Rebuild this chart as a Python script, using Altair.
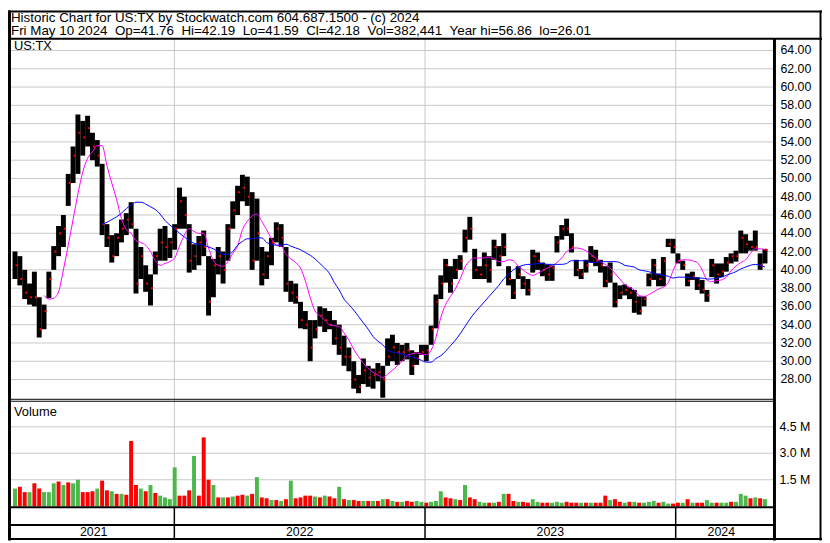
import altair as alt
import pandas as pd

FONT = "Liberation Sans"

header_line1 = "Historic Chart for US:TX by Stockwatch.com 604.687.1500 - (c) 2024"
header_line2 = ("Fri May 10 2024\u00a0\u00a0Op=41.76\u00a0\u00a0Hi=42.19\u00a0\u00a0Lo=41.59\u00a0\u00a0"
                "Cl=42.18\u00a0\u00a0Vol=382,441\u00a0\u00a0Year hi=56.86\u00a0\u00a0lo=26.01")
symbol = "US:TX"

first_week = "2021-05-14"
last_week = "2024-05-10"

hi = [42.0, 41.5, 40.0, 38.5, 39.8, 37.0, 36.2, 39.8, 42.6, 44.8,
      46.0, 50.5, 53.5, 57.0, 56.3, 56.86, 55.0, 54.2, 51.6, 45.0,
      43.8, 44.0, 45.5, 46.2, 47.4, 44.5, 42.5, 40.5, 39.5, 42.0,
      44.5, 44.8, 43.5, 45.0, 49.0, 48.0, 45.0, 42.8, 43.7, 44.3,
      41.5, 41.2, 42.5, 42.0, 45.0, 47.5, 49.2, 50.4, 50.2, 48.5,
      47.8, 42.5, 42.0, 43.5, 45.2, 45.0, 42.5, 38.8, 38.5, 36.5,
      35.5, 34.5, 34.5, 36.0, 35.8, 35.5, 34.5, 34.0, 32.8, 31.5,
      30.0, 28.5, 30.3, 29.5, 29.2, 29.8, 29.5, 32.5, 32.9, 32.0,
      31.8, 32.0, 31.2, 31.0, 31.8, 31.8, 33.9, 37.3, 39.4, 41.2,
      40.4, 41.2, 41.6, 44.4, 45.8, 42.3, 40.4, 41.9, 41.5, 43.3,
      42.6, 44.0, 40.4, 39.0, 40.4, 39.3, 39.0, 42.2, 41.9, 40.8,
      40.6, 40.5, 43.7, 44.9, 45.6, 44.0, 41.1, 40.1, 41.1, 42.6,
      42.2, 41.1, 40.4, 40.8, 38.6, 38.3, 38.4, 38.1, 37.8, 37.1,
      37.1, 39.6, 41.2, 39.6, 41.4, 43.4, 43.4, 41.8, 41.0, 39.6,
      39.8, 39.2, 38.9, 37.8, 41.2, 40.7, 40.7, 41.4, 41.8, 42.1,
      44.3, 43.9, 43.2, 44.3, 41.8, 42.3]

lo = [39.0, 38.3, 36.8, 36.2, 36.0, 32.6, 33.5, 36.9, 40.0, 41.5,
      42.5, 47.0, 49.5, 50.5, 52.5, 53.5, 52.0, 51.3, 43.8, 42.5,
      40.8, 41.5, 43.0, 43.8, 44.5, 37.4, 39.0, 37.6, 36.1, 39.5,
      41.0, 41.0, 41.3, 42.2, 44.5, 44.5, 39.7, 40.0, 40.5, 41.5,
      35.0, 37.0, 39.5, 38.5, 41.0, 44.5, 46.0, 47.5, 47.0, 40.0,
      41.0, 38.3, 39.0, 40.5, 43.0, 42.5, 37.6, 36.5, 36.3, 33.6,
      33.5, 30.0, 32.5, 33.8, 33.2, 33.5, 31.8, 30.7, 29.5, 28.9,
      27.0, 26.5, 27.5, 27.2, 27.0, 27.8, 26.01, 29.5, 30.0, 29.6,
      30.0, 30.2, 28.5, 29.6, 30.7, 30.0, 31.8, 33.6, 36.8, 38.6,
      37.5, 39.0, 40.0, 41.9, 43.3, 39.0, 39.0, 39.0, 38.6, 41.1,
      40.4, 41.5, 38.3, 36.8, 39.0, 37.9, 37.2, 39.7, 40.0, 39.3,
      38.8, 38.8, 41.9, 43.3, 43.7, 41.9, 39.3, 39.0, 39.7, 40.8,
      40.4, 39.7, 38.1, 38.6, 35.9, 36.8, 37.2, 36.8, 35.3, 35.1,
      36.0, 38.2, 38.9, 38.2, 38.2, 42.5, 41.8, 40.7, 40.0, 38.2,
      38.9, 37.8, 37.4, 36.5, 39.2, 38.5, 39.2, 39.8, 40.7, 40.9,
      41.8, 41.8, 42.1, 42.1, 40.0, 40.7]

close = [40.5, 39.0, 37.5, 37.0, 37.0, 33.5, 35.5, 39.0, 42.0, 44.0,
         44.5, 49.5, 52.5, 55.0, 54.5, 55.5, 53.5, 52.5, 45.0, 43.5,
         41.5, 43.5, 44.5, 45.5, 45.0, 38.5, 41.5, 38.5, 38.0, 41.5,
         43.0, 42.5, 43.0, 44.5, 47.5, 46.0, 41.0, 41.5, 43.0, 42.5,
         36.5, 40.5, 41.5, 40.0, 44.5, 46.5, 48.5, 49.0, 48.0, 41.0,
         44.0, 39.5, 41.5, 43.0, 44.5, 43.5, 38.5, 37.5, 37.0, 34.5,
         34.0, 31.5, 33.5, 35.0, 34.5, 34.0, 32.5, 31.5, 30.5, 30.5,
         28.0, 27.2, 29.0, 28.2, 28.5, 28.8, 28.0, 30.5, 31.5, 31.0,
         31.0, 31.2, 29.5, 30.3, 31.0, 31.2, 33.5, 36.5, 38.5, 40.5,
         38.5, 40.0, 41.0, 43.5, 44.5, 40.0, 39.5, 40.5, 40.0, 42.5,
         41.5, 42.5, 39.0, 37.5, 39.5, 38.5, 37.8, 41.5, 41.0, 40.0,
         39.5, 40.2, 43.0, 44.5, 44.5, 42.5, 40.0, 39.5, 40.5, 41.5,
         41.0, 40.5, 38.8, 39.5, 36.5, 37.5, 37.8, 37.5, 36.5, 35.5,
         36.8, 39.0, 40.5, 39.0, 41.0, 42.8, 42.5, 41.0, 40.5, 38.8,
         39.3, 38.3, 37.8, 37.2, 40.5, 39.5, 39.8, 40.8, 41.5, 41.5,
         43.5, 42.8, 42.5, 42.5, 40.5, 42.18]

ma_fast = [None] * 6 + [
    37.2, 36.8, 36.9, 37.6,
    40.0, 42.7, 45.5, 48.3, 50.7, 52.2, 52.9, 53.6, 53.6, 51.4,
    49.5, 47.7, 45.6, 44.4, 44.0, 43.2, 43.0, 42.7, 42.0, 41.0,
    40.5, 40.7, 40.9, 41.3, 42.6, 43.8, 44.5, 44.2, 44.0, 44.0,
    42.4, 41.0, 40.5, 40.4, 40.9, 41.8, 42.6, 44.4, 45.3, 45.9,
    46.1, 45.3, 44.4, 43.4, 42.7, 42.6, 41.7, 41.2, 40.8, 40.2,
    38.8, 37.0, 35.5, 35.0, 34.5, 34.0, 33.9, 33.8, 33.1, 32.3,
    31.3, 30.5, 29.8, 29.2, 28.8, 28.5, 28.2, 28.6, 29.0, 29.5,
    30.0, 30.6, 30.8, 30.9, 30.8, 30.7, 31.2, 32.6, 34.8, 36.2,
    37.1, 37.9, 39.0, 40.3, 41.0, 41.3, 41.3, 41.3, 41.4, 41.2,
    40.9, 40.9, 41.1, 41.0, 40.4, 40.0, 39.6, 39.4, 39.6, 39.9,
    40.2, 40.4, 40.8, 41.3, 42.0, 42.3, 42.4, 42.3, 42.1, 41.7,
    41.3, 40.9, 40.6, 40.2, 39.6, 39.0, 38.4, 38.1, 37.8, 37.2,
    37.1, 37.3, 37.6, 37.9, 38.1, 38.6, 39.9, 40.9, 41.1, 41.1,
    41.0, 40.8, 40.0, 38.9, 38.7, 38.8, 38.9, 39.2, 39.9, 40.4,
    40.8, 41.1, 41.8, 42.3, 42.3, 42.2]

ma_slow = [None] * 18 + [
    45.0, 45.2,
    45.5, 45.8, 46.2, 46.7, 47.1, 47.4, 47.4, 47.2, 46.9, 46.6,
    46.1, 45.4, 44.9, 44.5, 44.0, 43.6, 43.2, 42.9, 42.8, 42.7,
    42.5, 42.3, 42.0, 41.7, 41.7, 42.0, 42.7, 43.1, 43.4, 43.4,
    43.5, 43.5, 43.0, 42.8, 42.7, 42.7, 42.8, 42.6, 42.4, 42.2,
    41.9, 41.6, 41.2, 40.7, 40.2, 39.6, 38.6, 37.8, 36.8, 36.2,
    35.6, 34.9, 34.2, 33.5, 32.7, 32.2, 31.8, 31.2, 31.0, 30.9,
    30.8, 30.6, 30.5, 30.3, 30.1, 29.9, 29.9, 30.3, 30.6, 31.1,
    31.7, 32.3, 33.0, 33.8, 34.6, 35.3, 35.9, 36.5, 37.1, 37.7,
    38.3, 39.0, 39.5, 40.0, 40.3, 40.5, 40.6, 40.6, 40.7, 40.7,
    40.6, 40.6, 40.6, 40.6, 40.7, 41.0, 41.0, 41.0, 41.0, 40.8,
    40.8, 40.9, 40.9, 40.9, 40.9, 40.8, 40.5, 40.4, 40.3, 40.0,
    39.9, 39.8, 39.6, 39.5, 39.4, 39.3, 39.1, 39.2, 39.2, 39.2,
    39.1, 39.1, 39.1, 39.0, 39.0, 39.1, 39.2, 39.4, 39.6, 39.8,
    40.1, 40.3, 40.5, 40.6, 40.5, 40.3]

# volume in millions of shares
volume = [1.0, 1.1, 0.8, 0.8, 1.3, 1.0, 0.8, 0.8, 1.3, 1.4,
          1.2, 1.35, 1.3, 1.5, 0.8, 0.8, 0.85, 1.0, 1.45, 0.9,
          0.85, 0.7, 0.7, 0.65, 3.7, 1.2, 1.0, 0.85, 1.2, 0.75,
          0.6, 0.5, 0.4, 2.2, 0.6, 0.6, 0.9, 2.85, 0.6, 3.9,
          1.5, 1.2, 0.5, 0.5, 0.5, 0.55, 0.6, 0.65, 0.6, 0.7,
          1.65, 0.5, 0.45, 0.35, 0.35, 0.3, 0.4, 1.45, 0.45, 0.5,
          0.6, 0.6, 0.55, 0.5, 0.6, 0.55, 0.45, 1.1, 0.4, 0.35,
          0.35, 0.3, 0.3, 0.3, 0.3, 0.3, 0.4, 0.4, 0.3, 0.25,
          0.25, 0.3, 0.25, 0.3, 0.25, 0.2, 0.25, 0.3, 0.85, 0.5,
          0.45, 0.4, 0.35, 1.2, 0.5, 0.4, 0.25, 0.2, 0.2, 0.2,
          0.25, 0.7, 0.7, 0.3, 0.25, 0.25, 0.2, 0.4, 0.25, 0.2,
          0.2, 0.2, 0.25, 0.2, 0.25, 0.2, 0.2, 0.2, 0.2, 0.2,
          0.2, 0.2, 0.6, 0.35, 0.4, 0.25, 0.2, 0.25, 0.25, 0.2,
          0.2, 0.25, 0.3, 0.2, 0.25, 0.15, 0.15, 0.2, 0.2, 0.4,
          0.2, 0.2, 0.2, 0.35, 0.2, 0.2, 0.2, 0.2, 0.25, 0.25,
          0.7, 0.6, 0.45, 0.5, 0.45, 0.4]

volume_colour = ("grrgrrgggr" "grggrrrgrr" "grgrrrgrgr" "ggggrrrgrr" "rgrgrgrrgr"
                 "grrgrgrgrr" "rrgrgrrgrg" "rrgrgrgrgr" "grrggrgggr" "rgrgrrggrg"
                 "rgrrgrrggr" "rgggrrrgrg" "rrrgrrgrgr" "gggrggrrgr" "grrggrggrg"
                 "ggrgrg")

price_ticks = [28, 30, 32, 34, 36, 38, 40, 42, 44, 46, 48, 50, 52, 54, 56, 58, 60, 62, 64]
volume_ticks = [1.5, 3.0, 4.5]
volume_tick_labels = ["1.5 M", "3.0 M", "4.5 M"]
year_starts = ["2022-01-01T00:00:00", "2023-01-01T00:00:00", "2024-01-01T00:00:00"]
year_labels = ["2021", "2022", "2023", "2024"]
domain_start = "2021-05-11T00:00:00"
domain_end = "2024-05-13T00:00:00"

# ---------------- tables ----------------
dates = pd.date_range(first_week, last_week, periods=len(hi))
df = pd.DataFrame({
    "d": dates, "hi": hi, "lo": lo, "cl": close,
    "maf": ma_fast, "mas": ma_slow,
    "v": volume, "vc": list(volume_colour),
})

bounds = [pd.Timestamp(domain_start)] + [pd.Timestamp(s) for s in year_starts] + [pd.Timestamp(domain_end)]
mids = [bounds[k] + (bounds[k + 1] - bounds[k]) / 2 for k in range(len(year_labels))]
year_df = pd.DataFrame({"d": mids, "lab": year_labels})
ystart_df = pd.DataFrame({"d": [pd.Timestamp(s) for s in year_starts]})
ptick_df = pd.DataFrame({"p": price_ticks, "lab": [f"{p:.2f}" for p in price_ticks]})
vtick_df = pd.DataFrame({"p": volume_ticks, "lab": volume_tick_labels})
one = pd.DataFrame({"a": [0]})

W, H = 822, 535
PR = 774  # right edge of the plotting panels
HB = 28.5  # header bottom line

X = alt.Scale(domain=[alt.DateTime(year=2021, month=5, date=11),
                      alt.DateTime(year=2024, month=5, date=13)], range=[0, 771.5])
PY = alt.Scale(domain=[26, 64], range=[391, 40.3], zero=False, nice=False)
VY = alt.Scale(domain=[0, 4.5], range=[500.5, 420.3], zero=False, nice=False)

xd = alt.X("d:T", scale=X, axis=None)


def hline(y, x1, x2, w=1, color="black"):
    return alt.Chart(one).mark_rule(color=color, strokeWidth=w).encode(
        x=alt.value(x1), x2=alt.value(x2), y=alt.value(y))


def vline(x, y1, y2, w=1, color="black"):
    return alt.Chart(one).mark_rule(color=color, strokeWidth=w).encode(
        x=alt.value(x), y=alt.value(y1), y2=alt.value(y2))


def label(txt, x, y, size=13, align="left", baseline="alphabetic"):
    return alt.Chart(one).mark_text(font=FONT, fontSize=size, align=align, baseline=baseline,
                                    color="black").encode(
        x=alt.value(x), y=alt.value(y), text=alt.value(txt))


grid_price = alt.Chart(ptick_df).mark_rule(color="#c8c8c8", strokeWidth=1).encode(
    y=alt.Y("p:Q", scale=PY, axis=None), x=alt.value(0), x2=alt.value(PR))
grid_vol = alt.Chart(vtick_df).mark_rule(color="#c8c8c8", strokeWidth=1).encode(
    y=alt.Y("p:Q", scale=VY, axis=None), x=alt.value(0), x2=alt.value(PR))
year_grid = alt.Chart(ystart_df).mark_rule(color="#c8c8c8", strokeWidth=1).encode(
    x=xd, y=alt.value(HB), y2=alt.value(501))
year_sep = alt.Chart(ystart_df).mark_rule(color="black", strokeWidth=1.5).encode(
    x=xd, y=alt.value(501), y2=alt.value(534))

vol_bars = alt.Chart(df).mark_bar(width=4).encode(
    x=xd, y=alt.Y("v:Q", scale=VY, axis=None),
    color=alt.Color("vc:N", scale=alt.Scale(domain=["g", "r"], range=["#4cb84c", "#ff0000"]), legend=None))

price_bars = alt.Chart(df).mark_bar(width=5, color="black").encode(
    x=xd, y=alt.Y("lo:Q", scale=PY, axis=None), y2="hi:Q")
close_marks = alt.Chart(df).mark_square(size=4, color="#ff0000", opacity=1, xOffset=1.5).encode(
    x=xd, y=alt.Y("cl:Q", scale=PY, axis=None))
ma_fast_line = alt.Chart(df).mark_line(color="#ff00ff", strokeWidth=1, interpolate="monotone").encode(
    x=xd, y=alt.Y("maf:Q", scale=PY, axis=None))
ma_slow_line = alt.Chart(df).mark_line(color="#0000ff", strokeWidth=1, interpolate="monotone").encode(
    x=xd, y=alt.Y("mas:Q", scale=PY, axis=None))

price_labels = alt.Chart(ptick_df).mark_text(font=FONT, fontSize=12.5, align="left", baseline="middle",
                                             color="black").encode(
    y=alt.Y("p:Q", scale=PY, axis=None), x=alt.value(780), text="lab:N")
vol_labels = alt.Chart(vtick_df).mark_text(font=FONT, fontSize=12.5, align="left", baseline="middle",
                                           color="black").encode(
    y=alt.Y("p:Q", scale=VY, axis=None), x=alt.value(779), text="lab:N")
year_text = alt.Chart(year_df).mark_text(font=FONT, fontSize=12.5, align="center", baseline="middle",
                                         color="black").encode(
    x=xd, text="lab:N", y=alt.value(527))

frames = [
    hline(1, 0, W, 2), hline(533.5, 0, W, 2),
    vline(1.5, 0, H, 3), vline(820.5, 0, H, 2),
    hline(HB, 0, W, 2),
    vline(PR, HB, H, 3),
    hline(392.5, 0, PR, 1), hline(394.5, 0, PR, 1),
    hline(501.5, 0, PR, 2), hline(519.5, 0, PR, 2),
]

texts = [
    label(header_line1, 3, 11.5, 13.5), label(header_line2, 3, 25, 13.5),
    label(symbol, 6, 39.5, 13), label("Volume", 6, 409, 13),
]

chart = alt.layer(
    grid_price, grid_vol, year_grid, vol_bars, price_bars, close_marks,
    ma_fast_line, ma_slow_line, year_sep, *frames,
    price_labels, vol_labels, year_text, *texts,
).resolve_scale(y="independent").properties(
    width=W, height=H, padding=0, autosize=alt.AutoSizeParams(type="none"),
    background="white",
).configure_view(stroke=None)

chart.save("out.html", embed_options={"renderer": "svg", "actions": False})
